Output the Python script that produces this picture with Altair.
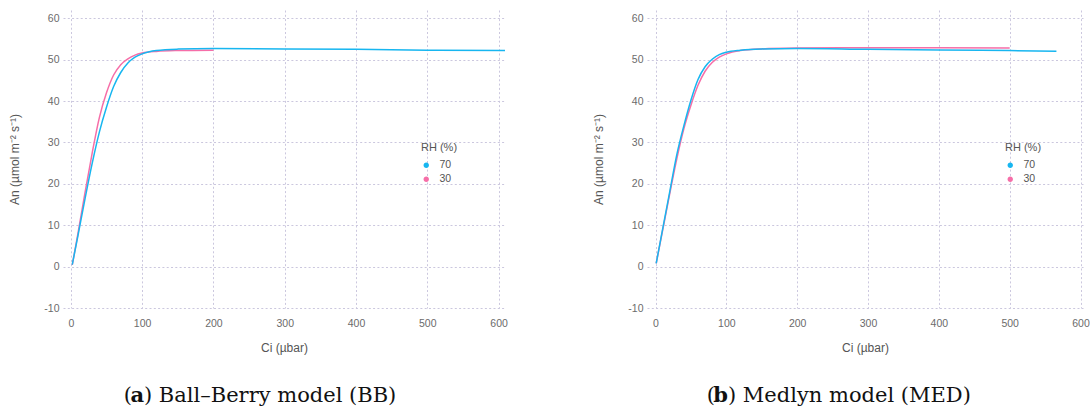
import altair as alt
import pandas as pd

# Ball–Berry model (BB): net assimilation An vs intercellular CO2 Ci
bb_ci_70 = [2, 10, 20, 30, 40, 50, 60, 70, 80, 90, 100, 110, 120, 150, 200, 300, 400, 500, 610]
bb_an_70 = [0.5, 7.5, 16.5, 25.0, 32.5, 38.5, 43.5, 46.9, 49.2, 50.6, 51.4, 51.9, 52.2, 52.55, 52.7, 52.6, 52.5, 52.3, 52.2]
bb_ci_30 = [2, 10, 20, 30, 40, 50, 60, 70, 80, 90, 100, 120, 150, 200]
bb_an_30 = [0.4, 8.0, 18.0, 27.5, 36.0, 42.0, 46.3, 48.8, 50.2, 51.1, 51.6, 52.0, 52.2, 52.3]

# Medlyn model (MED)
med_ci_70 = [1, 10, 20, 30, 40, 50, 60, 70, 80, 90, 100, 120, 150, 200, 300, 400, 500, 566]
med_an_70 = [0.8, 9.0, 18.0, 27.0, 34.0, 40.2, 45.2, 48.3, 50.1, 51.2, 51.8, 52.3, 52.6, 52.7, 52.5, 52.35, 52.2, 52.05]
med_ci_30 = [1, 10, 20, 30, 40, 50, 60, 70, 80, 90, 100, 120, 150, 200, 300, 400, 500]
med_an_30 = [0.8, 8.7, 17.5, 26.0, 33.3, 39.0, 43.8, 47.2, 49.3, 50.6, 51.4, 52.2, 52.6, 52.8, 52.9, 52.85, 52.8]

rh_levels = ["70", "30"]
rh_colors = ["#17b6f0", "#f66ea8"]
x_ticks = [0, 100, 200, 300, 400, 500, 600]
y_ticks = [-10, 0, 10, 20, 30, 40, 50, 60]

SANS = "Liberation Sans"
SERIF = "DejaVu Serif"


def frame(ci70, an70, ci30, an30):
    rows = [{"ci": c, "an": a, "rh": "30"} for c, a in zip(ci30, an30)]
    rows += [{"ci": c, "an": a, "rh": "70"} for c, a in zip(ci70, an70)]
    return pd.DataFrame(rows)


def panel(df, x_min, x_max, letter, rest, letter_w):
    x = alt.X("ci:Q", title="Ci (µbar)",
              scale=alt.Scale(domain=[x_min, x_max], nice=False, zero=False),
              axis=alt.Axis(values=x_ticks, labelFlush=False))
    y = alt.Y("an:Q", title="An (µmol m⁻² s⁻¹)",
              scale=alt.Scale(domain=[-10, 62], nice=False, zero=False),
              axis=alt.Axis(values=y_ticks, labelFlush=False,
                            labelExpr="replace(datum.label, '\u2212', '-')"))

    lines = alt.Chart(df).mark_line(strokeWidth=1.5, interpolate="monotone", clip=True).encode(
        x=x, y=y,
        color=alt.Color("rh:N", scale=alt.Scale(domain=rh_levels, range=rh_colors),
                        legend=alt.Legend(title="RH (%)", orient="none",
                                          legendX=358, legendY=132,
                                          symbolType="circle", symbolSize=8,
                                          symbolStrokeWidth=2.6, symbolOpacity=1)),
    )

    one = pd.DataFrame({"k": [0]})
    cap_rest = alt.Chart(one).mark_text(font=SERIF, fontSize=21, align="left",
                                        baseline="alphabetic", color="#111").encode(
        x=alt.value(81), y=alt.value(392), text=alt.value(rest))
    cap_letter = alt.Chart(one).mark_text(font=SERIF, fontSize=21, fontWeight="bold",
                                          align="right", baseline="alphabetic",
                                          color="#111").encode(
        x=alt.value(81), y=alt.value(392), text=alt.value(letter))
    cap_open = alt.Chart(one).mark_text(font=SERIF, fontSize=21, align="right",
                                        baseline="alphabetic", color="#111").encode(
        x=alt.value(81 - letter_w), y=alt.value(392), text=alt.value("("))

    return alt.layer(lines, cap_rest, cap_letter, cap_open)


left = panel(frame(bb_ci_70, bb_an_70, bb_ci_30, bb_an_30), -11, 609, "a",
             ") Ball–Berry model (BB)", 12).properties(width=442, height=298)
right = panel(frame(med_ci_70, med_an_70, med_ci_30, med_an_30), -12, 603.5, "b",
              ") Medlyn model (MED)", 13).properties(width=436, height=298)

chart = alt.hconcat(left, right, spacing=142, bounds="flush").resolve_scale(
    color="independent"
).resolve_legend(color="independent").properties(
    padding={"left": 8, "top": 10, "right": 0, "bottom": 0}
).configure(font=SANS).configure_view(stroke=None).configure_axis(
    domain=False, ticks=False,
    grid=True, gridColor="#cbc7de", gridDash=[2, 2.3], gridWidth=1,
    labelFont=SANS, labelFontSize=10.5, labelColor="#6b6b6b", labelPadding=4,
    titleFont=SANS, titleFontSize=12, titleFontWeight="normal", titleColor="#555555",
).configure_axisX(labelPadding=10, titlePadding=14).configure_axisY(
    titlePadding=22
).configure_legend(
    titleFont=SANS, titleFontSize=11, titleFontWeight="normal", titleColor="#555555",
    labelFont=SANS, labelFontSize=10.5, labelColor="#555555", rowPadding=0,
    titlePadding=7, labelOffset=8,
)

chart.save("out.html", embed_options={"renderer": "svg", "actions": False})
